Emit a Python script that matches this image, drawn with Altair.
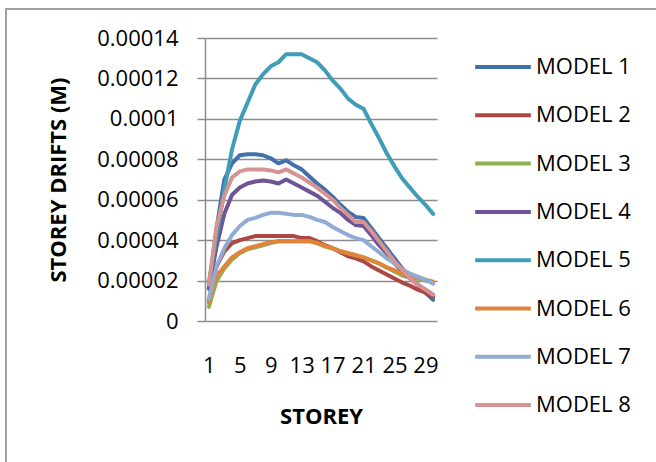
import altair as alt
import pandas as pd

storeys = list(range(1, 31))
models = ["MODEL 1", "MODEL 2", "MODEL 3", "MODEL 4", "MODEL 5", "MODEL 6", "MODEL 7", "MODEL 8"]
colors = ["#4170AC", "#AE4644", "#8EB04F", "#6E5494", "#3F9DB8", "#E0843A", "#91ACD4", "#D69392"]

model1 = [1.6e-5, 4.6e-5, 7.0e-5, 7.8e-5, 8.2e-5, 8.25e-5, 8.25e-5, 8.2e-5, 8.05e-5, 7.8e-5,
          7.95e-5, 7.7e-5, 7.5e-5, 7.15e-5, 6.8e-5, 6.5e-5, 6.15e-5, 5.75e-5, 5.4e-5, 5.15e-5,
          5.1e-5, 4.6e-5, 4.1e-5, 3.6e-5, 3.1e-5, 2.6e-5, 2.2e-5, 1.8e-5, 1.4e-5, 1.05e-5]
model2 = [1.0e-5, 2.7e-5, 3.45e-5, 3.85e-5, 4.0e-5, 4.1e-5, 4.2e-5, 4.2e-5, 4.2e-5, 4.2e-5,
          4.2e-5, 4.2e-5, 4.1e-5, 4.1e-5, 3.95e-5, 3.75e-5, 3.6e-5, 3.4e-5, 3.2e-5, 3.1e-5,
          2.95e-5, 2.7e-5, 2.5e-5, 2.3e-5, 2.1e-5, 1.9e-5, 1.75e-5, 1.55e-5, 1.4e-5, 1.2e-5]
model3 = [0.7e-5, 2.0e-5, 2.6e-5, 3.05e-5, 3.35e-5, 3.55e-5, 3.65e-5, 3.75e-5, 3.85e-5, 3.95e-5,
          3.95e-5, 3.95e-5, 3.95e-5, 3.95e-5, 3.85e-5, 3.7e-5, 3.6e-5, 3.45e-5, 3.35e-5, 3.25e-5,
          3.15e-5, 3.0e-5, 2.85e-5, 2.65e-5, 2.45e-5, 2.25e-5, 2.15e-5, 2.1e-5, 2.0e-5, 1.9e-5]
model4 = [1.6e-5, 3.7e-5, 5.3e-5, 6.25e-5, 6.6e-5, 6.8e-5, 6.9e-5, 6.95e-5, 6.9e-5, 6.8e-5,
          7.0e-5, 6.8e-5, 6.6e-5, 6.4e-5, 6.2e-5, 5.9e-5, 5.6e-5, 5.35e-5, 5.0e-5, 4.75e-5,
          4.7e-5, 4.25e-5, 3.75e-5, 3.35e-5, 2.85e-5, 2.45e-5, 2.1e-5, 1.8e-5, 1.55e-5, 1.3e-5]
model5 = [1.9e-5, 4.2e-5, 6.5e-5, 8.5e-5, 9.9e-5, 10.8e-5, 11.7e-5, 12.2e-5, 12.6e-5, 12.8e-5,
          13.2e-5, 13.2e-5, 13.2e-5, 13.0e-5, 12.8e-5, 12.4e-5, 11.9e-5, 11.5e-5, 11.0e-5, 10.7e-5,
          10.5e-5, 9.75e-5, 9.05e-5, 8.3e-5, 7.65e-5, 7.05e-5, 6.6e-5, 6.15e-5, 5.75e-5, 5.3e-5]
model6 = [0.9e-5, 2.2e-5, 2.7e-5, 3.15e-5, 3.4e-5, 3.6e-5, 3.7e-5, 3.8e-5, 3.9e-5, 3.95e-5,
          3.95e-5, 3.95e-5, 3.95e-5, 3.95e-5, 3.85e-5, 3.7e-5, 3.6e-5, 3.45e-5, 3.35e-5, 3.25e-5,
          3.15e-5, 3.0e-5, 2.85e-5, 2.65e-5, 2.5e-5, 2.35e-5, 2.25e-5, 2.15e-5, 2.05e-5, 1.95e-5]
model7 = [1.1e-5, 2.7e-5, 3.6e-5, 4.25e-5, 4.7e-5, 5.0e-5, 5.1e-5, 5.25e-5, 5.35e-5, 5.35e-5,
          5.3e-5, 5.25e-5, 5.25e-5, 5.15e-5, 5.0e-5, 4.9e-5, 4.65e-5, 4.45e-5, 4.25e-5, 4.1e-5,
          4.0e-5, 3.7e-5, 3.4e-5, 3.1e-5, 2.85e-5, 2.55e-5, 2.35e-5, 2.2e-5, 2.05e-5, 1.85e-5]
model8 = [1.8e-5, 4.7e-5, 6.2e-5, 7.1e-5, 7.4e-5, 7.5e-5, 7.5e-5, 7.5e-5, 7.45e-5, 7.35e-5,
          7.5e-5, 7.3e-5, 7.1e-5, 6.85e-5, 6.6e-5, 6.3e-5, 6.0e-5, 5.6e-5, 5.25e-5, 4.9e-5,
          4.9e-5, 4.45e-5, 3.95e-5, 3.45e-5, 2.95e-5, 2.55e-5, 2.1e-5, 1.8e-5, 1.55e-5, 1.3e-5]
y_ticks = [0, 0.00002, 0.00004, 0.00006, 0.00008, 0.0001, 0.00012, 0.00014]
x_label_storeys = [1, 5, 9, 13, 17, 21, 25, 29]

series = [model1, model2, model3, model4, model5, model6, model7, model8]
rows = []
for name, vals in zip(models, series):
    for s, v in zip(storeys, vals):
        rows.append({"storey": s, "model": name, "drift": v})
df = pd.DataFrame(rows)

FONT = "Open Sans"
GRID = "#8c8c8c"

border = alt.Chart(pd.DataFrame({"k": [0]})).mark_rect(
    filled=False, stroke="#a0a0a0", strokeWidth=2
).encode(
    x=alt.value(-199), x2=alt.value(470), y=alt.value(-29), y2=alt.value(440)
)

label_expr = "indexof(" + str(x_label_storeys) + ", datum.value) >= 0 ? datum.label : ''"

lines = alt.Chart(df).mark_line(strokeWidth=4, strokeJoin="round", strokeCap="round").encode(
    x=alt.X("storey:O", sort=storeys,
            scale=alt.Scale(type="point", padding=0.5),
            axis=alt.Axis(title="STOREY", labelExpr=label_expr, labelAngle=0, ticks=False,
                          domain=False, grid=False, labelPadding=34, titlePadding=30,
                          labelOverlap=False)),
    y=alt.Y("drift:Q", scale=alt.Scale(domain=[0, 0.00014], nice=False, zero=True),
            axis=alt.Axis(values=y_ticks, format="~g", title="STOREY DRIFTS (M)",
                          labelPadding=19, titlePadding=26, tickSize=8, tickColor=GRID,
                          tickWidth=1.5, domainColor=GRID, domainWidth=1.5,
                          gridColor=GRID, gridWidth=1.5)),
    color=alt.Color("model:N", scale=alt.Scale(domain=models, range=colors),
                    legend=alt.Legend(title=None, orient="none", legendX=268, legendY=-1,
                                      symbolType="stroke", symbolSize=3100,
                                      symbolStrokeWidth=4, labelFont=FONT, labelFontSize=22,
                                      labelColor="black", labelOffset=3, rowPadding=7.3,
                                      padding=0, labelLimit=200)),
)

chart = alt.layer(border, lines).properties(
    width=232, height=283, autosize="none",
    padding={"left": 205, "top": 38, "right": 219, "bottom": 141},
).configure_view(stroke=None).configure_axis(
    labelFont=FONT, labelFontSize=22, labelColor="black",
    titleFont=FONT, titleFontSize=22, titleFontWeight="bold", titleColor="black",
)

chart.save("out.html", embed_options={"renderer": "svg", "actions": False})
